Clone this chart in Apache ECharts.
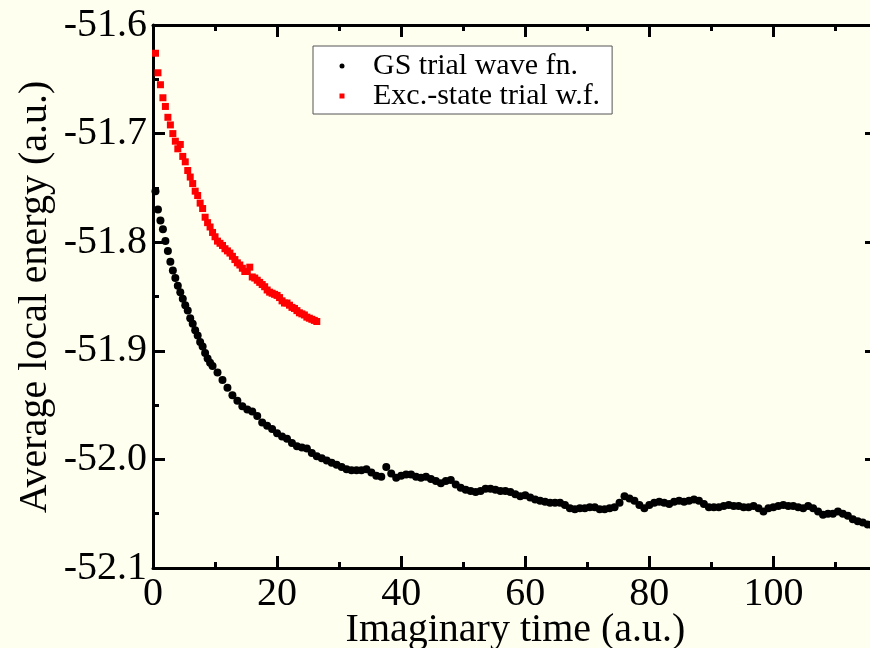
<!DOCTYPE html>
<html>
<head>
<meta charset="utf-8">
<script src="https://cdn.jsdelivr.net/npm/echarts@6/dist/echarts.min.js"></script>
<style>
html,body{margin:0;padding:0;background:#fffff0;}
#chart{width:870px;height:648px;}
</style>
</head>
<body>
<div id="chart"></div>
<script>
// ---- data ----
// Ground-state trial wave function, early part: times 0.4, 0.8, ... (step 0.4)
const gsEarlyStart = 0.4;
const gsEarlyStep = 0.4;
const gsEarly = [
  -51.753, -51.770, -51.780, -51.788, -51.799, -51.808, -51.818, -51.826, -51.833, -51.840,
  -51.846, -51.852, -51.858, -51.863, -51.870, -51.875, -51.881, -51.886, -51.892, -51.896,
  -51.902, -51.907, -51.911, -51.914
];
// Ground-state trial wave function, later part: times 10.4, 11.2, ... (step 0.8)
const gsLateStart = 10.4;
const gsLateStep = 0.8;
const gsLate = [
  -51.920, -51.927, -51.934, -51.941, -51.946, -51.951, -51.954, -51.956, -51.960, -51.966,
  -51.969, -51.972, -51.976, -51.979, -51.981, -51.985, -51.988, -51.989, -51.990, -51.994,
  -51.997, -51.999, -52.001, -52.003, -52.005, -52.007, -52.009, -52.010, -52.010, -52.010,
  -52.009, -52.012, -52.015, -52.016, -52.007, -52.013, -52.017, -52.015, -52.014, -52.014,
  -52.016, -52.017, -52.016, -52.018, -52.020, -52.022, -52.020, -52.019, -52.023, -52.026,
  -52.028, -52.029, -52.030, -52.029, -52.027, -52.027, -52.028, -52.029, -52.029, -52.030,
  -52.032, -52.034, -52.033, -52.035, -52.037, -52.038, -52.039, -52.040, -52.040, -52.040,
  -52.042, -52.045, -52.046, -52.045, -52.045, -52.044, -52.044, -52.046, -52.046, -52.045,
  -52.044, -52.040, -52.034, -52.036, -52.038, -52.042, -52.045, -52.042, -52.040, -52.039,
  -52.040, -52.041, -52.039, -52.038, -52.039, -52.038, -52.037, -52.038, -52.041, -52.044,
  -52.044, -52.044, -52.043, -52.042, -52.043, -52.043, -52.044, -52.044, -52.043, -52.045,
  -52.048, -52.045, -52.044, -52.043, -52.042, -52.043, -52.043, -52.044, -52.045, -52.043,
  -52.045, -52.048, -52.051, -52.050, -52.050, -52.048, -52.050, -52.052, -52.055, -52.057,
  -52.058, -52.060, -52.061
];
// Excited-state trial wave function: times 0.4, 0.8, ... (step 0.4)
const excStart = 0.4;
const excStep = 0.4;
const excEnergy = [
  -51.626, -51.644, -51.655, -51.667, -51.675, -51.685, -51.692, -51.700, -51.707, -51.714,
  -51.710, -51.721, -51.726, -51.734, -51.740, -51.746, -51.753, -51.757, -51.764, -51.769,
  -51.777, -51.782, -51.786, -51.791, -51.795, -51.799, -51.801, -51.803, -51.806, -51.808,
  -51.810, -51.813, -51.816, -51.819, -51.821, -51.824, -51.827, -51.827, -51.823, -51.832,
  -51.833, -51.835, -51.837, -51.839, -51.841, -51.844, -51.846, -51.847, -51.848, -51.849,
  -51.851, -51.854, -51.856, -51.856, -51.858, -51.860, -51.861, -51.863, -51.865, -51.866,
  -51.867, -51.869, -51.870, -51.871, -51.872, -51.873
];
const seriesNames = ['GS trial wave fn.', 'Exc.-state trial w.f.'];
const xMajorTicks = [0, 20, 40, 60, 80, 100];
const xMinorTicks = [10, 30, 50, 70, 90, 110];
const xTitle = 'Imaginary time (a.u.)';
const yTitle = 'Average local energy (a.u.)';

// ---- build ----
function pairs(start, step, arr) {
  return arr.map((e, i) => [+(start + i * step).toFixed(2), e]);
}
const gsData = pairs(gsEarlyStart, gsEarlyStep, gsEarly).concat(pairs(gsLateStart, gsLateStep, gsLate));
const excData = pairs(excStart, excStep, excEnergy);

const FONT = "'Liberation Serif', 'Times New Roman', serif";
const XMIN = 0, XMAX = 116.7, YMIN = -52.1, YMAX = -51.6;
const lineStyle = { color: '#000', width: 3 };

function xAxisDef(pos, ticks, len, showLabels, showLine) {
  return {
    type: 'value', position: pos, min: XMIN, max: XMAX,
    axisLine: { show: showLine, onZero: false, lineStyle: lineStyle },
    axisTick: { show: true, inside: true, length: len, customValues: ticks, lineStyle: { color: '#000', width: 3 } },
    axisLabel: showLabels ? {
      show: true, customValues: ticks, margin: 6, color: '#000', fontFamily: FONT, fontSize: 40
    } : { show: false },
    splitLine: { show: false }
  };
}

const chart = echarts.init(document.getElementById('chart'), null, { renderer: 'canvas' });
chart.setOption({
  backgroundColor: '#fffff0',
  animation: false,
  textStyle: { fontFamily: FONT },
  grid: { left: 153, right: -7, top: 25, bottom: 80, containLabel: false, outerBoundsMode: 'none' },
  legend: {
    orient: 'vertical',
    left: 313, top: 46,
    padding: [5, 12, 3, 26.5],
    itemGap: 0,
    itemWidth: 5, itemHeight: 5,
    backgroundColor: '#ffffff',
    borderColor: '#555',
    borderWidth: 1,
    borderRadius: 0,
    textStyle: { fontFamily: FONT, fontSize: 30, color: '#000', lineHeight: 28, padding: [0, 0, 0, 23.5] },
    data: [
      { name: seriesNames[0], icon: 'circle', itemStyle: { opacity: 1 } },
      { name: seriesNames[1], icon: 'rect', itemStyle: { opacity: 1 } }
    ]
  },
  graphic: [
    {
      type: 'text', x: 35, y: 297, rotation: Math.PI / 2, silent: true,
      style: { text: yTitle, fontFamily: FONT, fontSize: 40, fill: '#000', align: 'center', verticalAlign: 'middle' }
    },
    {
      type: 'text', x: 515.5, y: 630, silent: true,
      style: { text: xTitle, fontFamily: FONT, fontSize: 40, fill: '#000', align: 'center', verticalAlign: 'middle' }
    }
  ],
  xAxis: [
    xAxisDef('bottom', xMajorTicks, 12, true, true),
    xAxisDef('bottom', xMinorTicks, 6, false, false),
    xAxisDef('top', xMajorTicks, 12, false, true),
    xAxisDef('top', xMinorTicks, 6, false, false)
  ],
  yAxis: [
    {
      type: 'value', position: 'left', min: YMIN, max: YMAX, interval: 0.1,
      axisLine: { show: true, onZero: false, lineStyle: lineStyle },
      axisTick: { show: true, inside: true, length: 12, lineStyle: { color: '#000', width: 3 } },
      minorTick: { show: true, splitNumber: 2, length: 6, lineStyle: { color: '#000', width: 3 } },
      axisLabel: { show: true, margin: 6, color: '#000', fontFamily: FONT, fontSize: 40,
        formatter: v => v.toFixed(1) },
      splitLine: { show: false }, minorSplitLine: { show: false }
    },
    {
      type: 'value', position: 'right', min: YMIN, max: YMAX, interval: 0.1,
      axisLine: { show: true, onZero: false, lineStyle: lineStyle },
      axisTick: { show: true, inside: true, length: 12, lineStyle: { color: '#000', width: 3 } },
      minorTick: { show: true, splitNumber: 2, length: 6, lineStyle: { color: '#000', width: 3 } },
      axisLabel: { show: false },
      splitLine: { show: false }, minorSplitLine: { show: false }
    }
  ],
  series: [
    {
      name: seriesNames[0], type: 'scatter', xAxisIndex: 0, yAxisIndex: 0,
      symbol: 'circle', symbolSize: 8,
      itemStyle: { color: '#000', opacity: 1 },
      data: gsData
    },
    {
      name: seriesNames[1], type: 'scatter', xAxisIndex: 0, yAxisIndex: 0,
      symbol: 'rect', symbolSize: 7,
      itemStyle: { color: '#ff0000', opacity: 1 },
      data: excData
    }
  ]
});
</script>
</body>
</html>
